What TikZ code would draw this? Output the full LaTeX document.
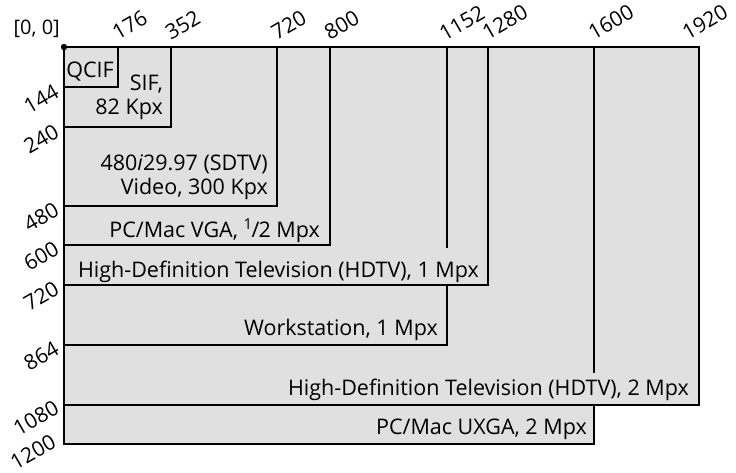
\documentclass[tikz,border=0pt]{standalone}
\usepackage{fontspec}
\setmainfont{Open Sans}
\definecolor{panelgray}{HTML}{E0E0E0}
\tikzset{
  frameline/.style={line width=2pt, line cap=rect},
  boxlabel/.style={anchor=base east, inner sep=0pt, align=right, font=\fontsize{21.5}{24}\selectfont},
  toptick/.style={anchor=west, rotate=30, inner sep=0pt, font=\fontsize{21}{24}\selectfont},
  lefttick/.style={anchor=east, rotate=30, inner sep=0pt, font=\fontsize{21}{24}\selectfont}
}
\begin{document}
\begin{tikzpicture}[line join=miter, x=1pt, y=-1pt]
                \useasboundingbox (0,0) rectangle (736,473);

                % gray area of all formats
                \fill[panelgray] (64,47) -- (699,47) -- (699,405) -- (594,405) -- (594,444) -- (64,444) -- cycle;

                % frame
                \draw[frameline] (699,47) -- (64,47) -- (64,444);
                \fill (64,47) circle (3.2pt);
                \node[anchor=base east, inner sep=0pt, font=\fontsize{20}{24}\selectfont] (origin) at (60,35) {[0, 0]};

                % format boxes
                \draw[frameline] (118,47) |- (64,87);
                \draw[frameline] (171,47) |- (64,127);
                \draw[frameline] (277,47) |- (64,206);
                \draw[frameline] (330,47) |- (64,245);
                \draw[frameline] (488,47) |- (64,285);
                \draw[frameline] (447,47) -- (447,247);
                \draw[frameline] (447,285) |- (64,345);
                \draw[frameline] (699,47) |- (64,405);
                \draw[frameline] (594,47) -- (594,372);
                \draw[frameline] (594,405) |- (64,444);

                \node[boxlabel] (qcif) at (114,78) {QCIF};
                \node[boxlabel] (sif) at (163,115) {SIF,\\82 Kpx};
                \node[boxlabel] (sdtv) at (268,195) {480\textit{i}29.97 (SDTV)\\Video, 300 Kpx};
                \node[boxlabel] (vga) at (320,237) {PC/Mac VGA, \textsuperscript{1}\kern-0.05em/\kern-0.05em2 Mpx};
                \node[boxlabel] (hdtvone) at (479,277) {High-Definition Television (HDTV), 1 Mpx};
                \node[boxlabel] (wks) at (438,335) {Workstation, 1 Mpx};
                \node[boxlabel] (hdtvtwo) at (689,395) {High-Definition Television (HDTV), 2 Mpx};
                \node[boxlabel] (uxga) at (587,434) {PC/Mac UXGA, 2 Mpx};

                % widths
                \node[toptick] (w176) at (114,34) {176};
                \node[toptick] (w352) at (167,34) {352};
                \node[toptick] (w720) at (273,34) {720};
                \node[toptick] (w800) at (326,34) {800};
                \node[toptick] (w1152) at (441,35) {1152};
                \node[toptick] (w1280) at (484,34) {1280};
                \node[toptick] (w1600) at (590,34) {1600};
                \node[toptick] (w1920) at (684,34) {1920};

                % heights
                \node[lefttick] (h144) at (57,90) {144};
                \node[lefttick] (h240) at (57,130) {240};
                \node[lefttick] (h480) at (57,208) {480};
                \node[lefttick] (h600) at (57,247) {600};
                \node[lefttick] (h720) at (57,287) {720};
                \node[lefttick] (h864) at (57,347) {864};
                \node[lefttick] (h1080) at (57,406) {1080};
                \node[lefttick] (h1200) at (54,440) {1200};

\end{tikzpicture}
\end{document}
